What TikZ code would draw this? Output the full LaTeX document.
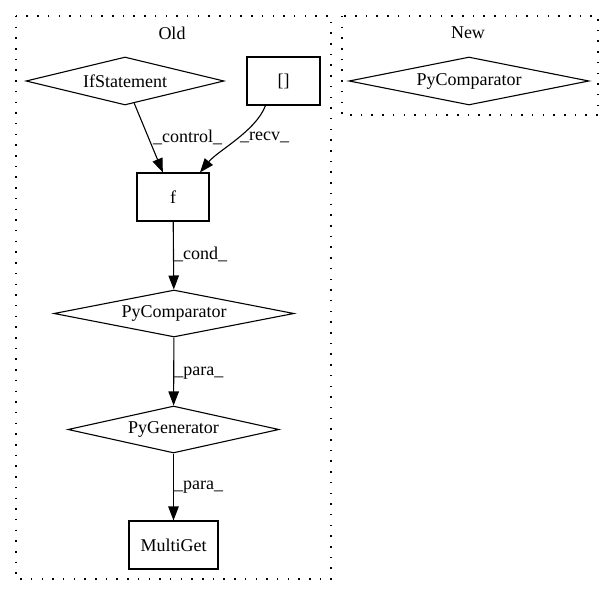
\documentclass[tikz,border=0pt]{standalone}
\usepackage{fontspec}
\setmainfont{Liberation Serif}
\usetikzlibrary{shapes.geometric,arrows.meta,calc}
\begin{document}
\begin{tikzpicture}[x=1pt,y=-1pt,
  every node/.style={font=\fontsize{18}{21}\selectfont},
  box/.style={draw, line width=1.1pt, rectangle, inner sep=0pt},
  dia/.style={draw, line width=1.1pt, diamond, inner sep=0pt},
  cluster/.style={draw, line width=1.3pt, dash pattern=on 1.5pt off 9.2pt},
  edge/.style={line width=1.1pt, -{Triangle[length=14pt,width=10.5pt]}},
  lbl/.style={anchor=west, inner sep=0pt}]
\useasboundingbox (0,0) rectangle (613,596);
\draw[cluster] (16,16) rectangle (331,579);
\draw[cluster] (342,16) rectangle (598,115);
\node (oldlbl) at (172,33) {Old};
\node (newlbl) at (468,33) {New};

\node[dia, minimum width=198pt, minimum height=48pt, aspect=4.1] (ifs) at (125,81) {IfStatement};
\node[box, minimum width=73pt, minimum height=48pt] (br) at (283.5,81) {[]};
\node[box, minimum width=72pt, minimum height=48pt] (f) at (173,197) {f};
\node[dia, minimum width=240pt, minimum height=47pt, aspect=5.1] (pc) at (174,313.5) {PyComparator};
\node[dia, minimum width=211pt, minimum height=47pt, aspect=4.5] (pg) at (173.5,429.5) {PyGenerator};
\node[box, minimum width=89pt, minimum height=48pt] (mg) at (173.5,545) {MultiGet};
\node[dia, minimum width=240pt, minimum height=48pt, aspect=5] (pcn) at (469,81) {PyComparator};

\draw[edge] (ifs) -- (f) node[lbl, pos=0.5, xshift=4pt] {\_control\_};
\draw[edge] ($(br.south)+(-18,0)$) .. controls ($(br.south)+(-28,26)$) and ($(f.north)+(45,-22)$) .. ($(f.north)+(27,0)$)
  node[lbl, pos=0.45, xshift=0pt] (recvl) {\_recv\_};
\draw[edge] (f) -- (pc) node[lbl, pos=0.48] {\_cond\_};
\draw[edge] (pc) -- (pg) node[lbl, pos=0.52] {\_para\_};
\draw[edge] (pg) -- (mg) node[lbl, pos=0.51] {\_para\_};
\end{tikzpicture}
\end{document}
